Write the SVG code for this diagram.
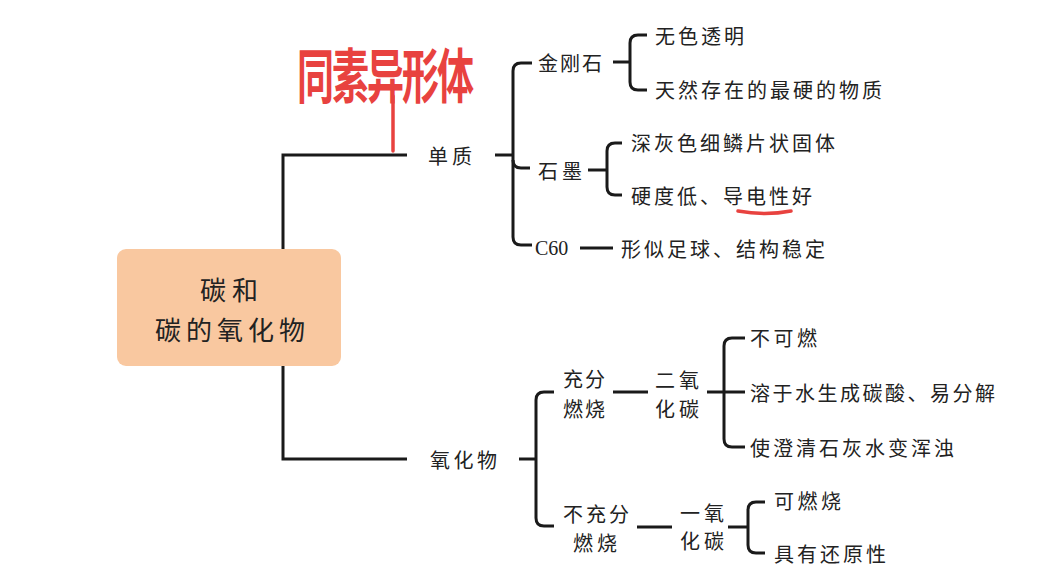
<svg xmlns="http://www.w3.org/2000/svg" width="1038" height="586" viewBox="0 0 1038 586">
<style>
.t{font-family:"Noto Sans CJK SC","Noto Sans",sans-serif;font-size:20px;fill:#222;dominant-baseline:central;letter-spacing:3px}
.big{font-size:26px;letter-spacing:5px}
.c{fill:none;stroke:#1a1a1a;stroke-width:3;stroke-linecap:butt;stroke-linejoin:miter}
.red{fill:none;stroke:#e8423f;stroke-width:3.5;stroke-linecap:round}
</style>
<rect width="1038" height="586" fill="#ffffff"/>
<g id="connectors">
  <path class="c" d="M407 155 H283 V249"/>
  <path class="c" d="M283 366 V459 H407"/>
  <path class="c" d="M495 155 H513"/>
  <path class="c" d="M532 63 H521 Q513 63 513 71 V237 Q513 245 521 245 H532"/>
  <path class="c" d="M513 160 Q513 168 521 168 H530"/>
  <path class="c" d="M613 62 H630"/>
  <path class="c" d="M647 35 H638 Q630 35 630 43 V82 Q630 90 638 90 H647"/>
  <path class="c" d="M588 170 H607"/>
  <path class="c" d="M622 143 H615 Q607 143 607 151 V187 Q607 195 615 195 H622"/>
  <path class="c" d="M580 248 H613"/>
  <path class="c" d="M519 459 H536"/>
  <path class="c" d="M554 392 H544 Q536 392 536 400 V518 Q536 526 544 526 H554"/>
  <path class="c" d="M613 392 H648"/>
  <path class="c" d="M707 392 H745"/>
  <path class="c" d="M745 338 H732 Q724 338 724 346 V439 Q724 447 732 447 H745"/>
  <path class="c" d="M637 527 H672"/>
  <path class="c" d="M728 527 H748"/>
  <path class="c" d="M765 502 H756 Q748 502 748 510 V545 Q748 553 756 553 H765"/>
</g>
<g id="root">
  <rect x="117" y="249" width="224" height="117" rx="9" fill="#f9c8a0"/>
  <text class="t big" x="200" y="288" style="letter-spacing:6px">碳和</text>
  <text class="t big" x="155" y="328">碳的氧化物</text>
</g>
<g id="danzhi"><text class="t" x="428" y="155" style="letter-spacing:4px">单质</text></g>
<g id="jingangshi"><text class="t" x="538" y="62" style="letter-spacing:2px">金刚石</text></g>
<g id="jg1"><text class="t" x="655" y="35">无色透明</text></g>
<g id="jg2"><text class="t" x="655" y="89">天然存在的最硬的物质</text></g>
<g id="shimo"><text class="t" x="538" y="170" style="letter-spacing:4px">石墨</text></g>
<g id="sm1"><text class="t" x="631" y="142">深灰色细鳞片状固体</text></g>
<g id="sm2"><text class="t" x="631" y="195">硬度低、导电性好</text></g>
<g id="c60"><text x="535" y="248" style="font-family:'Liberation Serif',serif;font-size:20px;fill:#222;dominant-baseline:central">C60</text></g>
<g id="c60d"><text class="t" x="621" y="248">形似足球、结构稳定</text></g>
<g id="yanghuawu"><text class="t" x="430" y="459" style="letter-spacing:3.5px">氧化物</text></g>
<g id="chongfen"><text class="t" x="563" y="378" style="letter-spacing:2px">充分</text><text class="t" x="563" y="408" style="letter-spacing:2px">燃烧</text></g>
<g id="co2"><text class="t" x="655" y="379" style="letter-spacing:4px">二氧</text><text class="t" x="655" y="408" style="letter-spacing:4px">化碳</text></g>
<g id="co2a"><text class="t" x="750" y="337" style="letter-spacing:3.5px">不可燃</text></g>
<g id="co2b"><text class="t" x="750" y="392" style="letter-spacing:2.5px">溶于水生成碳酸、易分解</text></g>
<g id="co2c"><text class="t" x="750" y="447">使澄清石灰水变浑浊</text></g>
<g id="buchongfen"><text class="t" x="563" y="513">不充分</text><text class="t" x="573" y="542" style="letter-spacing:4px">燃烧</text></g>
<g id="co"><text class="t" x="680" y="512" style="letter-spacing:4px">一氧</text><text class="t" x="680" y="540" style="letter-spacing:4px">化碳</text></g>
<g id="coa"><text class="t" x="774" y="500" style="letter-spacing:3.5px">可燃烧</text></g>
<g id="cob"><text class="t" x="774" y="553">具有还原性</text></g>
<g id="annotation">
  <text transform="translate(297 98) scale(1 1.6)" style="font-family:'Noto Sans CJK SC',sans-serif;font-size:37px;font-weight:bold;fill:#e8423f;letter-spacing:-2px">同素异形体</text>
  <path class="red" d="M393 96 L393 151"/>
  <path class="red" d="M738 211 Q765 216 791 211"/>
</g>
</svg>
